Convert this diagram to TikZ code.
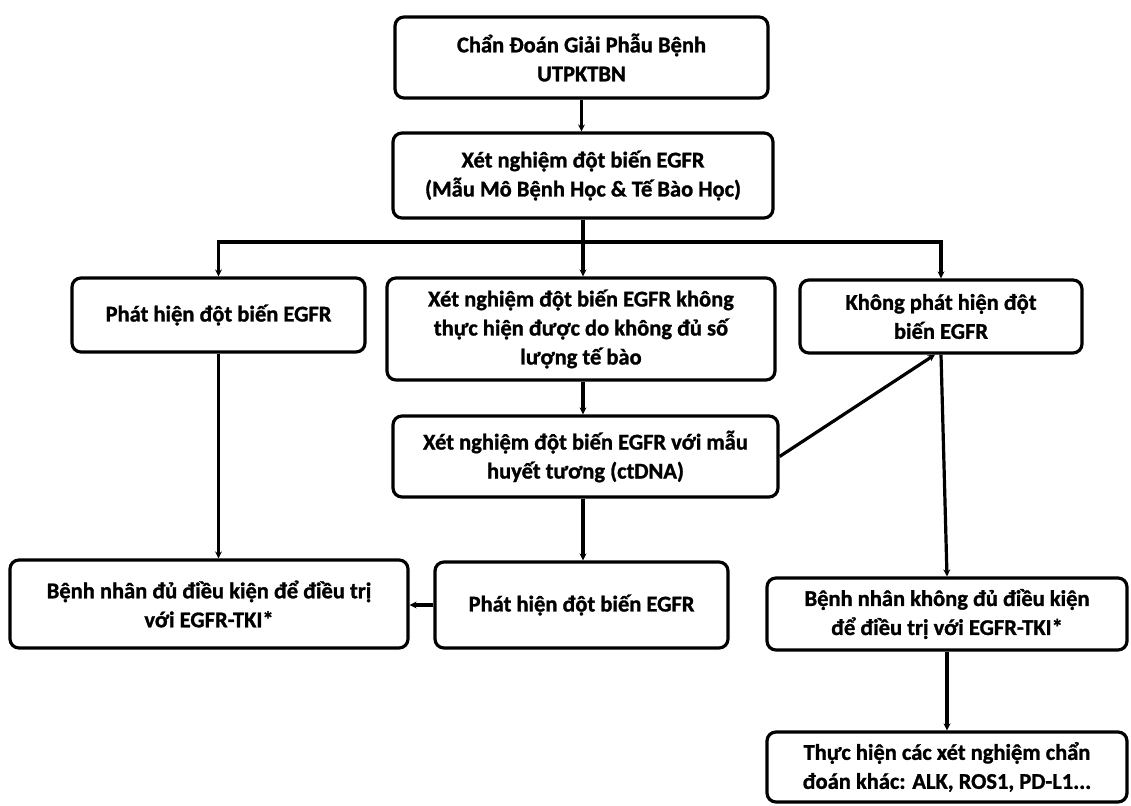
\documentclass[tikz,border=0pt]{standalone}
\usepackage{fontspec}
\setmainfont{Carlito}[BoldFeatures={FakeBold=1.2}]
\usetikzlibrary{arrows.meta,calc}
\tikzset{
  box/.style={draw=black, line width=3.2pt, rounded corners=9pt, align=center,
    font=\fontsize{22.5}{29}\selectfont\bfseries, inner sep=0pt, anchor=center},
  conn/.style={line width=3.2pt},
  arr/.style={conn, -{Stealth[length=7pt,width=7pt]}}
}
\begin{document}
\begin{tikzpicture}[x=1pt,y=-1pt]
\useasboundingbox (0,0) rectangle (1131,805);
\fill[white] (0,0) rectangle (1131,805);
\node[box, minimum width=373pt, minimum height=81pt] (A) at (581.5,57.5) {Chẩn Đoán Giải Phẫu Bệnh\\UTPKTBN};
\node[box, minimum width=380pt, minimum height=85pt] (B) at (583,175.5) {Xét nghiệm đột biến EGFR\\(Mẫu Mô Bệnh Học \& Tế Bào Học)};
\node[box, minimum width=293pt, minimum height=74pt] (L1) at (218.5,315) {Phát hiện đột biến EGFR};
\node[box, minimum width=388pt, minimum height=102pt] (M1) at (581,329) {Xét nghiệm đột biến EGFR không\\thực hiện được do không đủ số\\lượng tế bào};
\node[box, minimum width=282pt, minimum height=73pt] (R1) at (941,316.5) {Không phát hiện đột\\biến EGFR};
\node[box, minimum width=385pt, minimum height=81pt] (M2) at (585.5,456.5) {Xét nghiệm đột biến EGFR với mẫu\\huyết tương (ctDNA)};
\node[box, minimum width=398pt, minimum height=88pt] (BL) at (209,604) {Bệnh nhân đủ điều kiện để điều trị\\với EGFR-TKI*};
\node[box, minimum width=293pt, minimum height=86pt] (B2) at (581.5,605) {Phát hiện đột biến EGFR};
\node[box, minimum width=360pt, minimum height=72pt] (R2) at (947,614) {Bệnh nhân không đủ điều kiện\\để điều trị với EGFR-TKI*};
\node[box, minimum width=360pt, minimum height=70pt] (R3) at (947,767) {Thực hiện các xét nghiệm chẩn\\đoán khác: ALK, ROS1, PD-L1...};
\coordinate (J) at (583,242);
\draw[arr] (A.south) -- (A.south |- B.north);
\draw[conn] (B.south -| J) -- (J);
\draw[arr] (J) -- (J |- M1.north);
\draw[arr] (J) -| (L1.north);
\draw[arr] (J) -| (R1.north);
\draw[arr] (M1.south -| J) -- (J |- M2.north);
\draw[arr] (M2.east) -- ($(R1.south)+(-6,0)$);
\draw[arr] (R1.south) -- (R2.north);
\draw[arr] (R2.south) -- (R3.north);
\draw[arr] (L1.south) -- (L1.south |- BL.north);
\draw[arr] (J |- M2.south) -- (J |- B2.north);
\draw[arr] (B2.west) -- (B2.west -| BL.east);
\end{tikzpicture}
\end{document}
